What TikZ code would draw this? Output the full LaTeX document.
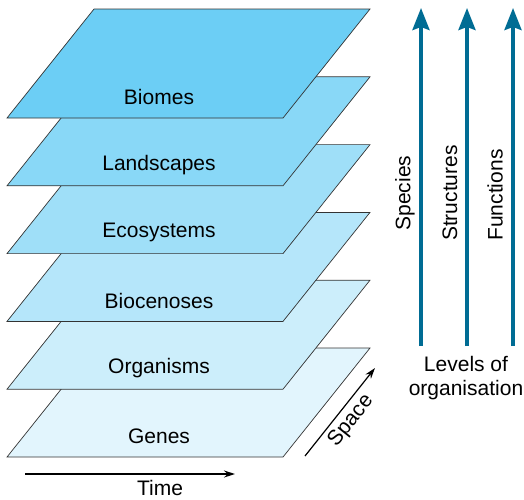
\documentclass[tikz,border=0pt]{standalone}
\usepackage{fontspec}
\setmainfont{Liberation Sans}
\usetikzlibrary{arrows.meta,positioning}
\definecolor{sky}{RGB}{108,206,245}
\definecolor{lvlblue}{RGB}{0,108,148}

\begin{document}
\begin{tikzpicture}[x=1pt, y=-1pt, font=\fontsize{21}{24}\selectfont,
  plane/.style={draw=black!80, line width=0.7pt},
  lbl/.style={inner sep=1pt},
  up/.style={-{Stealth[length=22pt,width=17pt,inset=3pt]}, line width=3.5pt, draw=lvlblue},
  ax/.style={-{Stealth[length=11pt,width=7pt]}, line width=1.2pt}]
\useasboundingbox (0,0) rectangle (524,499);
% the six layers, lowest first
\filldraw[plane, fill=sky!20] (7,457) -- ++(276,0) -- ++(87,-109) -- ++(-276,0) -- cycle;
\node[lbl] (genes) at (159,436) {Genes};
\filldraw[plane, fill=sky!35] (7,389.2) -- ++(276,0) -- ++(87,-109) -- ++(-276,0) -- cycle;
\node[lbl] (org) at (159,368.5) {Organisms};
\filldraw[plane, fill=sky!50] (7,321.4) -- ++(276,0) -- ++(87,-109) -- ++(-276,0) -- cycle;
\node[lbl] (bioc) at (159,300.5) {Biocenoses};
\filldraw[plane, fill=sky!65] (7,253.6) -- ++(276,0) -- ++(87,-109) -- ++(-276,0) -- cycle;
\node[lbl] (eco) at (159,232.5) {Ecosystems};
\filldraw[plane, fill=sky!80] (7,185.8) -- ++(276,0) -- ++(87,-109) -- ++(-276,0) -- cycle;
\node[lbl] (land) at (159,165) {Landscapes};
\filldraw[plane, fill=sky] (7,118) -- ++(276,0) -- ++(87,-109) -- ++(-276,0) -- cycle;
\node[lbl] (biomes) at (159,97) {Biomes};
% axes
\coordinate (t0) at (25,474); \coordinate (t1) at (235,474);
\draw[ax] (t0) -- (t1);
\node[lbl] (time) at (160,488) {Time};
\coordinate (s0) at (305,456); \coordinate (s1) at (375,368);
\draw[ax] (s0) -- node[lbl, sloped, below=3pt] (space) {Space} (s1);
% levels of organisation
\node[lbl, align=center] (lvl) at (466,378) {Levels of\\organisation};
\coordinate (a0) at (421,346); \coordinate (a1) at (421,8);
\coordinate (b0) at (467,346); \coordinate (b1) at (467,8);
\coordinate (c0) at (513,346); \coordinate (c1) at (513,8);
\draw[up] (a0) -- (a1); \draw[up] (b0) -- (b1); \draw[up] (c0) -- (c1);
\node[lbl, rotate=90] (spec) at (405,193) {Species};
\node[lbl, rotate=90] (struc) at (450,193) {Structures};
\node[lbl, rotate=90] (func) at (495,195) {Functions};
\end{tikzpicture}
\end{document}
